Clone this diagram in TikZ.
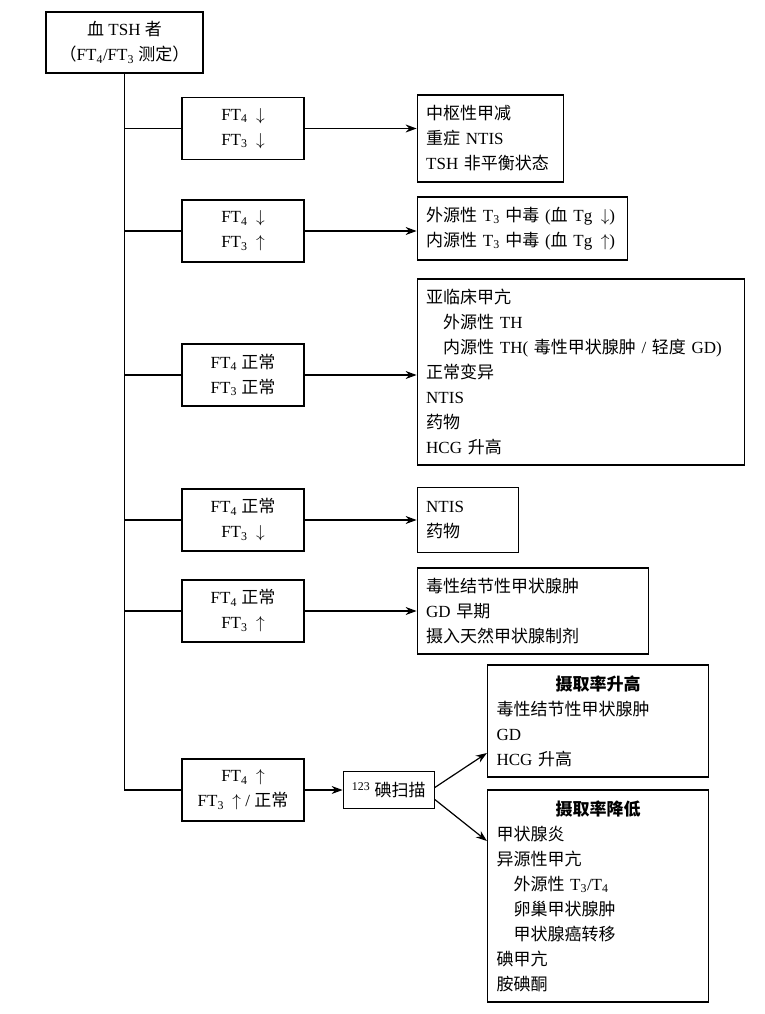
\documentclass[tikz,border=0pt]{standalone}
\usepackage{fontspec}
\setmainfont{Liberation Serif}
\newfontfamily\zh{Noto Sans CJK SC}
\usetikzlibrary{positioning}
\usetikzlibrary{arrows.meta}

% Chinese characters switch to \zh by themselves
\XeTeXinterchartokenstate=1
\newXeTeXintercharclass\hanclass
\count255="3000
\loop\ifnum\count255<"3040 \XeTeXcharclass\count255=\hanclass \advance\count255 by 1 \repeat
\count255="4E00
\loop\ifnum\count255<"A000 \XeTeXcharclass\count255=\hanclass \advance\count255 by 1 \repeat
\count255="FF00
\loop\ifnum\count255<"FF60 \XeTeXcharclass\count255=\hanclass \advance\count255 by 1 \repeat
\XeTeXinterchartoks 0 \hanclass = {\begingroup\zh}
\XeTeXinterchartoks 4095 \hanclass = {\begingroup\zh}
\XeTeXinterchartoks \hanclass 0 = {\endgroup}
\XeTeXinterchartoks \hanclass 4095 = {\endgroup}

\newcommand{\dn}{\enspace$\downarrow$}
\newcommand{\up}{\enspace$\uparrow$}

\begin{document}
\begin{tikzpicture}[
    x=1pt, y=-1pt,
    font=\fontsize{17}{25}\selectfont,
    line width=1.2pt,
    >={Stealth[length=11pt,width=8pt]},
    cond/.style={rectangle, draw=black, minimum width=122pt, minimum height=62pt, inner sep=2pt, align=center},
    result/.style={rectangle, draw=black, inner xsep=9pt, inner ysep=2pt, align=left}
]
\useasboundingbox (0,0) rectangle (764,1014);

\node[cond, minimum width=157pt, minimum height=61pt] (tsh) at (124.5,42.5) {血 TSH 者\\（FT\textsubscript{4}/FT\textsubscript{3} 测定）};

\node[cond] (c1) at (243,128.5) {FT\textsubscript{4}\dn\\FT\textsubscript{3}\dn};
\node[cond] (c2) at (243,231) {FT\textsubscript{4}\dn\\FT\textsubscript{3}\up};
\node[cond] (c3) at (243,375) {FT\textsubscript{4} 正常\\FT\textsubscript{3} 正常};
\node[cond] (c4) at (243,520) {FT\textsubscript{4} 正常\\FT\textsubscript{3}\dn};
\node[cond] (c5) at (243,611) {FT\textsubscript{4} 正常\\FT\textsubscript{3}\up};
\node[cond] (c6) at (243,790) {FT\textsubscript{4}\up\\FT\textsubscript{3}\up\ / 正常};

\node[result, text width=128pt, minimum height=87pt] (r1) [right=112pt of c1, yshift=-10pt] {中枢性甲减\\重症 NTIS\\TSH 非平衡状态};
\node[result, text width=192pt, minimum height=63pt] (r2) [right=112pt of c2, yshift=2.5pt] {外源性 T\textsubscript{3} 中毒 (血 Tg\dn)\\内源性 T\textsubscript{3} 中毒 (血 Tg\up)};
\node[result, text width=309pt, minimum height=186pt] (r3) [right=112pt of c3, yshift=3pt] {亚临床甲亢\\\hspace*{1em}外源性 TH\\\hspace*{1em}内源性 TH( 毒性甲状腺肿 / 轻度 GD)\\正常变异\\NTIS\\药物\\HCG 升高};
\node[result, text width=83pt, minimum height=65pt] (r4) [right=112pt of c4] {NTIS\\药物};
\node[result, text width=213pt, minimum height=86pt] (r5) [right=112pt of c5] {毒性结节性甲状腺肿\\GD 早期\\摄入天然甲状腺制剂};

\node[cond, minimum width=91pt, minimum height=37pt] (scan) [right=38pt of c6] {\textsuperscript{123} 碘扫描};
\node[result, text width=203pt, minimum height=112pt] (rUp) at (598,721) {\makebox[\hsize]{\bfseries 摄取率升高}\\毒性结节性甲状腺肿\\GD\\HCG 升高};
\node[result, text width=203pt, minimum height=212pt] (rDown) at (598,896) {\makebox[\hsize]{\bfseries 摄取率降低}\\甲状腺炎\\异源性甲亢\\\hspace*{1em}外源性 T\textsubscript{3}/T\textsubscript{4}\\\hspace*{1em}卵巢甲状腺肿\\\hspace*{1em}甲状腺癌转移\\碘甲亢\\胺碘酮};

% trunk and branches
\draw (tsh.south) |- (c6.west);
\draw (tsh.south |- c1.west) -- (c1.west);
\draw (tsh.south |- c2.west) -- (c2.west);
\draw (tsh.south |- c3.west) -- (c3.west);
\draw (tsh.south |- c4.west) -- (c4.west);
\draw (tsh.south |- c5.west) -- (c5.west);

\draw[->] (c1.east) -- (c1.east -| r1.west);
\draw[->] (c2.east) -- (c2.east -| r2.west);
\draw[->] (c3.east) -- (c3.east -| r3.west);
\draw[->] (c4.east) -- (c4.east -| r4.west);
\draw[->] (c5.east) -- (c5.east -| r5.west);
\draw[->] (c6.east) -- (scan.west);
\draw[->] ([yshift=2.5pt]scan.east) -- ([yshift=-32pt]rUp.west);
\draw[->] ([yshift=-9.5pt]scan.east) -- ([yshift=55pt]rDown.west);
\end{tikzpicture}
\end{document}
